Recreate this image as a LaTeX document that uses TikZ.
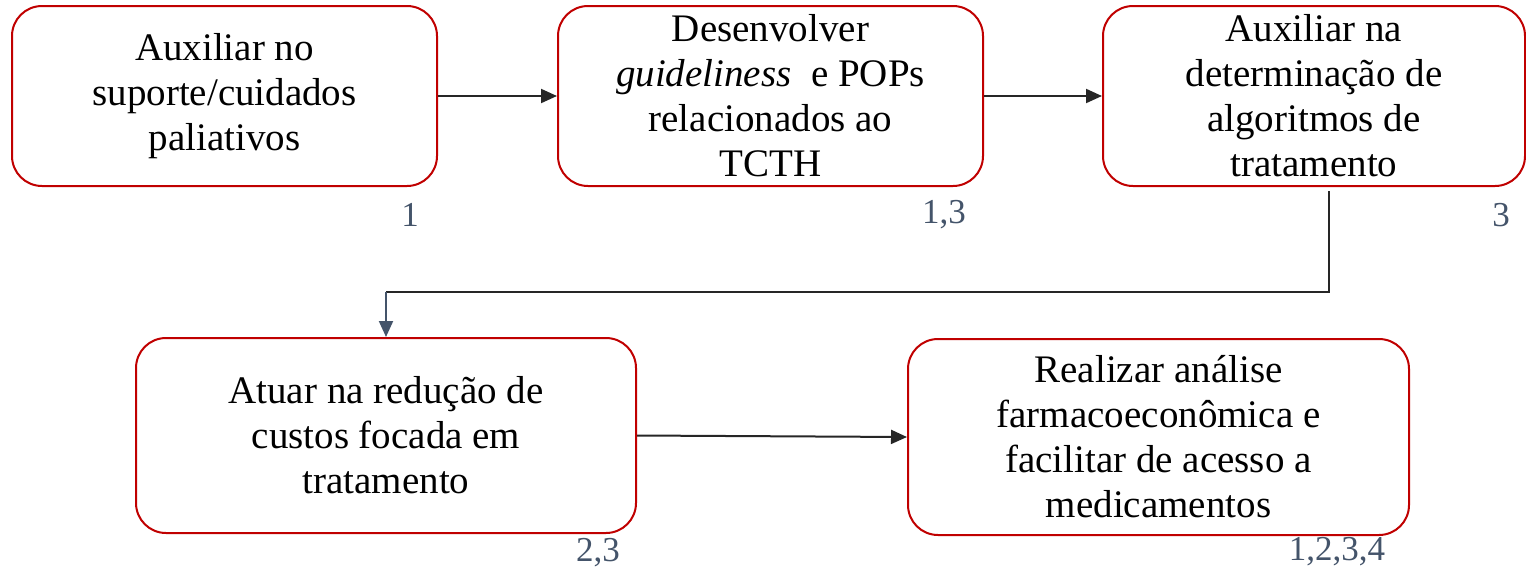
\documentclass[tikz,border=0pt]{standalone}
\usepackage{fontspec}
\setmainfont{Liberation Serif}
\usetikzlibrary{arrows.meta,calc}
\definecolor{boxred}{HTML}{C00000}
\definecolor{arrowdark}{HTML}{262626}
\definecolor{refblue}{HTML}{44546A}
\tikzset{
  stepbox/.style={draw=boxred, line width=2pt, rounded corners=30pt, fill=white,
    inner sep=0pt, align=center, font=\fontsize{39}{45}\selectfont},
  conn/.style={draw=arrowdark, line width=2pt, -{Triangle[length=16pt,width=14pt]}},
  reflabel/.style={text=refblue, font=\fontsize{35}{38}\selectfont, inner sep=0pt}
}
\begin{document}
\begin{tikzpicture}[x=1pt,y=-1pt]
\useasboundingbox (0,0) rectangle (1526,571);
\node[stepbox, minimum width=425pt, minimum height=180pt] (b1) at (224.5,96)
  {Auxiliar no\\suporte/cuidados\\paliativos};
\node[stepbox, minimum width=425pt, minimum height=180pt] (b2) at (770.5,96)
  {Desenvolver\\\textit{guideliness}~ e POPs\\relacionados ao\\TCTH};
\node[stepbox, minimum width=422pt, minimum height=180pt] (b3) at (1314,96)
  {Auxiliar na\\determinação de\\algoritmos de\\tratamento};
\node[stepbox, minimum width=500pt, minimum height=195pt] (b4) at (386,435.5)
  {Atuar na redução de\\custos focada em\\tratamento};
\node[stepbox, minimum width=501pt, minimum height=196pt] (b5) at (1158.5,437)
  {Realizar análise\\farmacoeconômica e\\facilitar de acesso a\\medicamentos};

\node[reflabel] (l1) at (410,215) {1};
\node[reflabel] (l2) at (944,215) {1,3};
\node[reflabel] (l3) at (1501,215) {3};
\node[reflabel] (l4) at (598,553) {2,3};
\node[reflabel] (l5) at (1337,552) {1,2,3,4};

\draw[conn] (b1.east) -- (b2.west);
\draw[conn] (b2.east) -- (b3.west);
\draw[conn] (b4.east) -- (b5.west);
\coordinate (s3) at ($(b3.south)+(15,4)$);
\coordinate (turn) at (386,292);
\draw[draw=arrowdark, line width=2pt] (s3) |- (turn);
\draw[conn, draw=refblue, fill=refblue] (turn) -- (b4.north);
\end{tikzpicture}
\end{document}
